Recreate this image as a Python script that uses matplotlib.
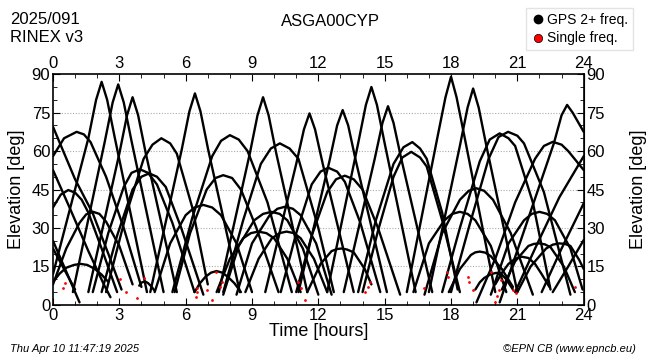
import matplotlib
matplotlib.use("Agg")
import matplotlib.pyplot as plt
from matplotlib.lines import Line2D

plt.rcParams['font.family'] = ['Liberation Sans', 'DejaVu Sans']

# satellite passes: time [h] and elevation [deg]
pass_hours = [
    [0, 1.0, 1.8, 2.5, 3.1], [0, 0.8, 1.6, 2.3, 2.6], [0, 0.6, 1.2], [0, 0.5, 1.0],
    [0, 0.35, 0.69, 1.0, 1.3, 1.6, 2.2, 2.9],
    [0, 0.5, 1.07, 1.4, 1.7, 2.4, 3.2, 4.0],
    [0, 0.6, 1.2, 1.5, 1.82, 2.1, 2.4, 3.0, 3.6],
    [0, 0.3, 0.6, 0.95, 1.25, 1.55, 1.9, 2.2, 2.5],
    [0, 1.6, 1.95, 2.2, 2.45, 2.8, 4.25], [0.9, 2.35, 2.7, 2.95, 3.2, 3.55, 5.0],
    [1.6, 3.0, 3.35, 3.6, 3.85, 4.2, 5.6], [4.4, 5.82, 6.17, 6.42, 6.67, 7.02, 8.45],
    [7.5, 8.9, 9.25, 9.5, 9.75, 10.1, 11.5], [9.6, 11.0, 11.35, 11.6, 11.85, 12.2, 13.6],
    [11.1, 12.5, 12.85, 13.1, 13.35, 13.7, 15.1], [12.4, 13.8, 14.15, 14.4, 14.65, 15.0, 16.4],
    [13.15, 14.55, 14.9, 15.15, 15.4, 15.75, 17.15], [16.0, 17.4, 17.75, 18.0, 18.25, 18.6, 20.0],
    [17.0, 18.4, 18.75, 19.0, 19.25, 19.6, 21.0], [20.2, 22.65, 23.0, 23.25, 23.5, 23.8, 24.0],
    [2.4, 3.3, 4.1, 4.5, 4.9, 5.3, 5.6, 6.3, 7.0],
    [5.4, 6.3, 7.2, 7.6, 8.0, 8.4, 8.8, 9.7, 10.8],
    [7.7, 8.6, 9.4, 9.85, 10.26, 10.7, 11.1, 12.0, 12.7],
    [13.8, 14.6, 15.4, 15.85, 16.25, 16.6, 16.9, 17.6, 18.3],
    [14.0, 14.7, 15.4, 15.8, 16.2, 16.6, 16.9, 17.6, 18.4],
    [17.6, 18.4, 19.3, 19.75, 20.2, 20.6, 20.9, 21.7, 22.5],
    [18.0, 18.8, 19.7, 20.15, 20.58, 21.0, 21.3, 22.2, 23.4],
    [19.15, 20.0, 20.9, 21.8, 22.2, 22.6, 23.0, 23.3, 24.0],
    [10.3, 11.0, 11.7, 12.1, 12.45, 12.85, 13.2, 13.9, 14.8],
    [11.0, 11.7, 12.4, 12.8, 13.2, 13.6, 14.0, 14.7, 15.7],
    [1.8, 2.5, 3.2, 3.55, 3.93, 4.3, 4.7, 5.4, 6.4],
    [2.2, 2.9, 3.6, 4.0, 4.35, 4.7, 5.1, 5.8, 6.8],
    [5.5, 6.2, 6.95, 7.35, 7.7, 8.1, 8.5, 9.2, 10.2],
    [16.8, 17.6, 18.4, 18.8, 19.15, 19.5, 19.9, 20.7, 21.7],
    [16.3, 17.0, 17.7, 18.05, 18.4, 18.75, 19.1, 19.8, 20.5],
    [19.8, 20.6, 21.3, 21.65, 22.0, 22.35, 22.7, 23.4, 23.95],
    [4.6, 5.3, 6.0, 6.4, 6.8, 7.2, 7.6, 8.3, 9.0],
    [7.7, 8.4, 9.1, 9.5, 9.88, 10.25, 10.6, 11.3, 12.0],
    [8.3, 9.0, 9.8, 10.15, 10.5, 10.85, 11.2, 11.9, 12.6],
    [7.4, 8.0, 8.6, 8.95, 9.28, 9.65, 10.0, 10.6, 11.2],
    [8.7, 9.3, 9.9, 10.25, 10.56, 10.9, 11.2, 11.8, 12.4],
    [6.4, 6.65, 6.9, 7.15, 7.4, 7.65, 7.9, 8.2, 8.5],
    [11.5, 12.1, 12.6, 12.85, 13.05, 13.3, 13.6, 14.1, 14.4],
    [17.9, 18.4, 18.9, 19.1, 19.3, 19.55, 19.8, 20.3, 20.8],
    [19.1, 19.3, 19.5, 19.8, 20.05, 20.3, 20.5, 20.8],
    [20.0, 20.3, 20.6, 20.9, 21.2, 21.5, 21.8, 22.1, 22.45],
    [20.3, 20.9, 21.5, 21.75, 22.0, 22.25, 22.5, 23.1, 23.6],
    [21.0, 21.6, 22.3, 22.6, 22.9, 23.15, 23.4, 23.8, 24.0],
    [20.9, 21.8, 22.9, 24.0], [22.1, 23.0, 24.0], [22.6, 23.3, 24.0],
    [3.9, 4.0, 4.1, 4.2, 4.3, 4.45, 4.6],
]
pass_elevs = [
    [69.5, 49, 35.7, 20, 6], [52.6, 37, 21, 8, 3], [25, 13, 1], [22, 14, 6],
    [38, 43, 44.8, 43.8, 41, 36, 22, 5],
    [58, 65, 67.5, 66.5, 63.5, 50, 30, 7],
    [8, 22, 32, 35.3, 36.3, 35.5, 32.5, 23, 8],
    [9, 12.2, 14.5, 15.6, 16, 15.6, 14, 11.8, 9],
    [12, 65, 80, 87, 80, 65, 5], [5, 64, 79, 86, 79, 64, 5],
    [5, 59, 74, 81, 74, 59, 5], [5, 60.5, 75.5, 82.5, 75.5, 60.5, 5],
    [5, 59, 74, 81, 74, 59, 5], [5, 55, 68.5, 74.7, 68.5, 55, 5],
    [5, 56, 70, 76, 70, 56, 5], [5, 63, 78, 85, 78, 63, 5],
    [5, 57, 71, 77.5, 71, 57, 5], [5, 66, 81, 89, 81, 66, 5],
    [5, 62, 77, 84.4, 77, 62, 5], [1, 63, 74, 78, 75, 70.5, 67.5],
    [5, 35, 57, 62.5, 65, 63, 59, 38, 8],
    [5, 34, 58, 64, 66.2, 64.5, 60, 40, 5],
    [5, 33, 55, 61, 63, 61, 57, 30, 5],
    [5, 33, 55, 61.5, 63.5, 61, 57, 36, 6],
    [5, 29, 50, 57.5, 59.7, 57.5, 54, 33, 5],
    [5, 30, 56, 64.5, 66.9, 65, 62, 40, 6],
    [5, 30, 57, 65.5, 67.5, 66, 63, 44, 4],
    [1, 18, 40, 57, 62, 63.6, 62.5, 60, 52.6],
    [5, 28, 47, 52, 53.5, 52, 48, 32, 5],
    [5, 27, 44, 49, 50.4, 49, 45, 30, 4],
    [5, 28, 46, 51.5, 52.9, 51.5, 47, 32, 5],
    [5, 27, 45, 50, 51.3, 50, 46, 30, 4],
    [5, 28, 45, 49.5, 50.6, 49.5, 45, 30, 5],
    [4, 28, 41, 44.5, 45.5, 44.5, 41, 28, 4],
    [5, 24, 33, 35.5, 36.3, 35.5, 33, 23, 5],
    [4, 24, 33, 35.5, 36.3, 35.5, 33, 22, 6],
    [5, 24, 35, 38, 39, 38, 35, 24, 5],
    [4, 23, 33, 35.5, 36.3, 35.5, 33, 22, 4],
    [4, 24, 35, 37.5, 38.3, 37.5, 35, 24, 4],
    [5, 18, 26, 28, 28.6, 28, 26, 18, 5],
    [5, 18, 26, 28, 28.6, 28, 26, 18, 5],
    [5, 8.5, 11, 12.6, 13.2, 12.6, 11, 8.5, 5],
    [5, 16, 21, 21.8, 22, 21.6, 20.5, 14, 8],
    [5, 14, 19.5, 20.5, 20.8, 20.4, 19, 14, 7],
    [6, 8.8, 10.5, 12, 12.5, 11.8, 10, 6],
    [8, 12.5, 16, 18, 18.8, 18.3, 16, 12, 7],
    [6, 17, 23, 23.8, 24, 23.6, 22.5, 15, 5],
    [5, 15, 22, 23.5, 24, 23.8, 23, 17.5, 14],
    [5, 22, 42, 58], [5, 22, 39.6], [5, 15, 25.3],
    [7.5, 8.7, 9, 9, 8.5, 7.2, 5.5],
]

# single-frequency observations (red)
single_hours = [0.44, 0.54, 3.03, 3.3, 3.78, 4.13, 6.45, 6.5, 6.52, 6.95, 7.17, 7.55, 7.65,
                7.35, 11.09, 11.2, 11.39, 14.1, 14.25, 14.35, 16.8, 17.8, 17.85, 18.77,
                18.82, 19.0, 19.8, 20.0, 20.08, 20.15, 20.28, 20.8, 20.95, 23.6]
single_elevs = [6.5, 8.4, 10, 5.2, 2.6, 10.4, 3, 5, 6.5, 5.8, 2, 7, 9,
                13, 9, 6.5, 2, 5.2, 7, 9, 6.5, 13, 11, 11,
                9, 6, 13, 1, 3.5, 6, 9.6, 5.8, 4.5, 7]

fig = plt.figure(figsize=(6.5, 3.6), dpi=100)
ax = fig.add_axes([0.0815, 0.153, 0.8165, 0.641])

for h, e in zip(pass_hours, pass_elevs):
    ax.plot(h, e, color='black', lw=1.7, solid_capstyle='round', solid_joinstyle='round')
ax.scatter(single_hours, single_elevs, s=4, color='red', zorder=3, linewidths=0)

ax.set_xlim(0, 24)
ax.set_ylim(0, 90)
ax.set_xticks(range(0, 25, 3))
ax.set_yticks(range(0, 91, 15))
ax.set_xticks(range(0, 25), minor=True)
ax.set_yticks(range(0, 91, 5), minor=True)
ax.tick_params(which='both', direction='in', top=True, right=True,
               labeltop=True, labelright=True, labelsize=12, pad=2)
ax.tick_params(which='major', length=5)
ax.tick_params(which='minor', length=3)
for y in range(15, 90, 15):
    ax.axhline(y, color='#aaaaaa', lw=0.8, ls=(0, (1, 1.5)), zorder=0)

ax.set_xlabel('Time [hours]', fontsize=13, labelpad=0)
ax.set_ylabel('Elevation [deg]', fontsize=13, labelpad=5)
ax2 = ax.secondary_yaxis('right')
ax2.set_yticks([])
ax2.set_ylabel('Elevation [deg]', fontsize=13, labelpad=33)
for s in ax.spines.values():
    s.set_linewidth(1.2)

fig.text(0.015, 0.945, '2025/091', fontsize=12, va='center')
fig.text(0.015, 0.897, 'RINEX v3', fontsize=12, va='center')
fig.text(0.508, 0.94, 'ASGA00CYP', fontsize=12, ha='center', va='center')
fig.text(0.015, 0.03, 'Thu Apr 10 11:47:19 2025', fontsize=8, style='italic', va='center')
fig.text(0.978, 0.03, '\u00a9EPN CB (www.epncb.eu)', fontsize=8, style='italic',
         ha='right', va='center')

handles = [Line2D([], [], marker='o', ls='', color='black', markersize=6),
           Line2D([], [], marker='o', ls='', color='red', markeredgecolor='black',
                  markeredgewidth=0.5, markersize=6)]
fig.legend(handles, ['GPS 2+ freq.', 'Single freq.'], loc='upper right',
           bbox_to_anchor=(0.985, 0.998), fontsize=10, frameon=True, fancybox=False,
           edgecolor='#dddddd', handletextpad=0.2, borderpad=0.35, labelspacing=0.35,
           handlelength=1.0)

fig.savefig('out.png', dpi=100)
